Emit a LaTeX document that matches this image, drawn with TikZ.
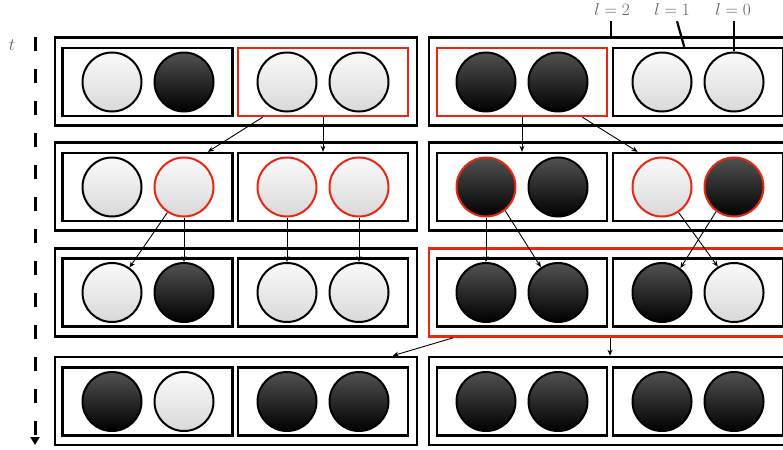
\documentclass[tikz,border=0pt]{standalone}
\usetikzlibrary{arrows.meta,calc}
\definecolor{myred}{RGB}{232,38,20}
\definecolor{labgray}{RGB}{95,95,95}
\begin{document}
\begin{tikzpicture}[x=1pt,y=-1pt,
  outer/.style={draw, line width=2.6, minimum width=362, minimum height=88, inner sep=0},
  inner/.style={draw, line width=2.4, minimum width=170, minimum height=68, inner sep=0},
  ball/.style={circle, draw, line width=2, minimum size=59, inner sep=0},
  lt/.style={ball, top color=gray!4, bottom color=gray!30},
  dk/.style={ball, top color=black!68, bottom color=black},
  rd/.style={draw=myred},
  arr/.style={line width=0.9, -{Stealth[length=6,width=5]}},
  lab/.style={text=labgray, font=\fontsize{17}{19}\selectfont, inner sep=0},
  labline/.style={line width=2.2}
]
\useasboundingbox (0,0) rectangle (783,449);

% time axis
\node[text=labgray, font=\fontsize{16}{18}\selectfont] (tlab) at (12,45) {$t$};
\coordinate (tA) at (35,37);
\coordinate (tB) at (35,445);
\draw[line width=3, dash pattern=on 14 off 18, -{Triangle[length=8,width=9]}] (tA) -- (tB);

% ---------- Row 1 ----------
\node[outer] (r1L) at (236,81.5) {};
\node[outer] (r1R) at (610,81.5) {};
\node[inner] (r1LL) at (147.5,82) {};
\node[inner,rd] (r1LR) at (323,82) {};
\node[inner,rd] (r1RL) at (522,82) {};
\node[inner] (r1RR) at (698,82) {};
\node[lt] (c1a) at (112,82) {};
\node[dk] (c1b) at (184,82) {};
\node[lt] (c1c) at (287,82) {};
\node[lt] (c1d) at (359,82) {};
\node[dk] (c1e) at (486,82) {};
\node[dk] (c1f) at (558,82) {};
\node[lt] (c1g) at (662,82) {};
\node[lt] (c1h) at (734,82) {};

% ---------- Row 2 ----------
\node[outer] (r2L) at (236,186.5) {};
\node[outer] (r2R) at (610,186.5) {};
\node[inner] (r2LL) at (147.5,187) {};
\node[inner] (r2LR) at (323,187) {};
\node[inner] (r2RL) at (522,187) {};
\node[inner] (r2RR) at (698,187) {};
\node[lt] (c2a) at (112,187) {};
\node[lt,rd] (c2b) at (184,187) {};
\node[lt,rd] (c2c) at (287,187) {};
\node[lt,rd] (c2d) at (359,187) {};
\node[dk,rd] (c2e) at (486,187) {};
\node[dk] (c2f) at (558,187) {};
\node[lt,rd] (c2g) at (662,187) {};
\node[dk,rd] (c2h) at (734,187) {};

% ---------- Row 3 ----------
\node[outer] (r3L) at (236,292.5) {};
\node[outer,rd] (r3R) at (610,292.5) {};
\node[inner] (r3LL) at (147.5,292.5) {};
\node[inner] (r3LR) at (323,292.5) {};
\node[inner] (r3RL) at (522,292.5) {};
\node[inner] (r3RR) at (698,292.5) {};
\node[lt] (c3a) at (112,292.5) {};
\node[dk] (c3b) at (184,292.5) {};
\node[lt] (c3c) at (287,292.5) {};
\node[lt] (c3d) at (359,292.5) {};
\node[dk] (c3e) at (486,292.5) {};
\node[dk] (c3f) at (558,292.5) {};
\node[dk] (c3g) at (662,292.5) {};
\node[lt] (c3h) at (734,292.5) {};

% ---------- Row 4 ----------
\node[outer] (r4L) at (236,401) {};
\node[outer] (r4R) at (610,401) {};
\node[inner] (r4LL) at (147.5,401.5) {};
\node[inner] (r4LR) at (323,401.5) {};
\node[inner] (r4RL) at (522,401.5) {};
\node[inner] (r4RR) at (698,401.5) {};
\node[dk] (c4a) at (112,401.5) {};
\node[lt] (c4b) at (184,401.5) {};
\node[dk] (c4c) at (287,401.5) {};
\node[dk] (c4d) at (359,401.5) {};
\node[dk] (c4e) at (486,401.5) {};
\node[dk] (c4f) at (558,401.5) {};
\node[dk] (c4g) at (662,401.5) {};
\node[dk] (c4h) at (734,401.5) {};

% ---------- level labels ----------
\node[lab] (l2) at (612,10) {$l=2$};
\node[lab] (l1) at (672,10) {$l=1$};
\node[lab] (l0) at (733,10) {$l=0$};
\coordinate (l1end) at ($(r1RR.north west)!0.42!(r1RR.north east)$);
\draw[labline] ([yshift=-5]l2.south -| 611,0) -- (611,0 |- r1R.north);
\draw[labline] ([xshift=5,yshift=-5]l1.south) -- (l1end);
\draw[labline] ([xshift=1,yshift=-5]l0.south) -- (c1h.north);

% ---------- arrows row 1 -> row 2 ----------
\draw[arr] ($(r1LR.south west)!0.15!(r1LR.south east)$) -- ($(r2LL.north west)!0.85!(r2LL.north east)$);
\draw[arr] (r1LR.south) -- (r2LR.north);
\draw[arr] (r1RL.south) -- (r2RL.north);
\draw[arr] ($(r1RL.south west)!0.85!(r1RL.south east)$) -- ($(r2RR.north west)!0.15!(r2RR.north east)$);

% ---------- arrows row 2 -> row 3 ----------
\draw[arr] (c2b.237) -- (c3a.55);
\draw[arr] (c2b.south) -- (c3b.north);
\draw[arr] (c2c.south) -- (c3c.north);
\draw[arr] (c2d.south) -- (c3d.north);
\draw[arr] (c2e.south) -- (c3e.north);
\draw[arr] (c2e.309) -- (c3f.124);
\draw[arr] (c2g.303) -- (c3h.122);
\draw[arr] (c2h.234) -- (c3g.53);

% ---------- arrows row 3 -> row 4 ----------
\draw[arr] ($(r3R.south west)!0.07!(r3R.south east)$) -- ($(r4L.north west)!0.93!(r4L.north east)$);
\draw[arr] (r3R.south) -- (r4R.north);
\end{tikzpicture}
\end{document}
